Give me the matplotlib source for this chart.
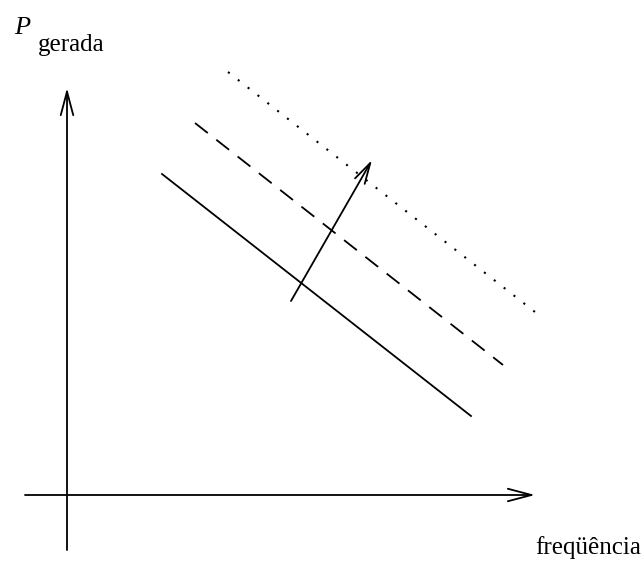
import matplotlib.pyplot as plt

# schematic: origin at the crossing of the two axes
x_axis = [-42, 468]
y_axis = [-55, 407]

solid_x = [95, 404]
solid_y = [321, 79]
dashed_x = [128, 436]
dashed_y = [372, 130]
dotted_x = [161, 468]
dotted_y = [423, 183]

shift_start = (224, 194)
shift_end = (305, 335)

fig = plt.figure(figsize=(6.44, 5.65), dpi=100)
ax = fig.add_axes([0, 0, 1, 1])
ax.set_xlim(-67, 577)
ax.set_ylim(-70, 495)
ax.axis("off")

arrow_style = dict(arrowstyle="->,head_length=1.7,head_width=0.45", color="black",
                   lw=1.3, shrinkA=0, shrinkB=0)

# axes
ax.annotate("", xy=(x_axis[1], 0), xytext=(x_axis[0], 0), arrowprops=arrow_style)
ax.annotate("", xy=(0, y_axis[1]), xytext=(0, y_axis[0]), arrowprops=arrow_style)

# the three lines
ax.plot(solid_x, solid_y, color="black", lw=1.3)
ax.plot(dashed_x, dashed_y, color="black", lw=1.3, linestyle=(0, (9, 6)))
ax.plot(dotted_x, dotted_y, color="black", lw=1.5, linestyle=(0, (1, 5)))

# shift arrow
ax.annotate("", xy=shift_end, xytext=shift_start,
            arrowprops=dict(arrow_style, arrowstyle="->,head_length=1.5,head_width=0.4"))

# labels
ax.text(-45, 467, "P", fontsize=19, family="Liberation Serif", style="italic",
        ha="center", va="center")
ax.text(4, 450, "gerada", fontsize=18, family="Liberation Serif",
        ha="center", va="center")
ax.text(521, -53, "freqüência", fontsize=18, family="Liberation Serif",
        ha="center", va="center")

fig.savefig("out.png", dpi=100)
